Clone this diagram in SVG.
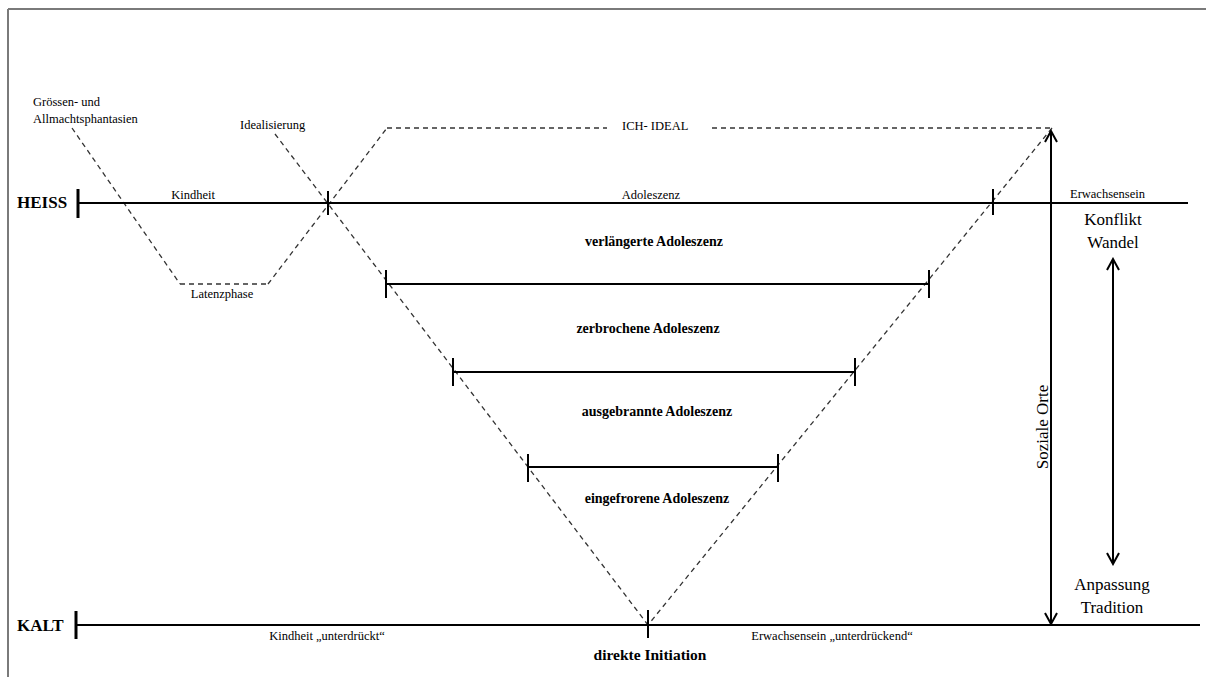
<svg xmlns="http://www.w3.org/2000/svg" width="1206" height="677" viewBox="0 0 1206 677">
<defs>
<style>
.t{font-family:'Liberation Serif','Times New Roman','Tinos','DejaVu Serif',serif;fill:#000}
.s{font-size:12.5px}
.b{font-weight:bold;font-size:14px}
.m{font-size:17px}
.line{stroke:#000;stroke-width:2;fill:none}
.tick{stroke:#000;stroke-width:2;fill:none}
.dash{stroke:#333;stroke-width:1.3;fill:none;stroke-dasharray:5 4}
</style>
<marker id="ah" viewBox="0 0 14 14" refX="12" refY="7" markerWidth="14" markerHeight="14" markerUnits="userSpaceOnUse" orient="auto-start-reverse">
<path d="M1,1 L12,7 L1,13" fill="none" stroke="#000" stroke-width="2"/>
</marker>
</defs>
<rect width="1206" height="677" fill="#fff"/>
<g id="frame" stroke="#7a7a7a" stroke-width="2">
<line x1="8" y1="9" x2="1206" y2="9"/>
<line x1="8" y1="9" x2="8" y2="677"/>
</g>
<g id="connectors">
<line class="dash" x1="72" y1="128" x2="180" y2="284"/>
<line class="dash" x1="180" y1="284" x2="268" y2="284"/>
<line class="dash" x1="268" y1="284" x2="387" y2="128"/>
<line class="dash" x1="387" y1="128" x2="607" y2="128"/>
<line class="dash" x1="712" y1="128" x2="1052" y2="128"/>
<line class="dash" x1="1052" y1="128" x2="648" y2="625"/>
<line class="dash" x1="275" y1="134" x2="648" y2="625"/>
</g>
<g id="heiss" font-family="Liberation Serif, serif">
<line class="line" x1="78" y1="203" x2="1188" y2="203"/>
<line stroke="#000" stroke-width="3" x1="78" y1="189" x2="78" y2="218"/>
<line class="tick" x1="328" y1="191" x2="328" y2="215"/>
<line class="tick" x1="993" y1="189" x2="993" y2="215"/>
<text x="17" y="208" class="t b" style="font-size:17px">HEISS</text>
<text x="193" y="199" class="t s" text-anchor="middle">Kindheit</text>
<text x="651" y="199" class="t s" text-anchor="middle">Adoleszenz</text>
<text x="1070" y="198" class="t s">Erwachsensein</text>
</g>
<g id="kalt">
<line class="line" x1="76" y1="625" x2="1200" y2="625"/>
<line stroke="#000" stroke-width="3" x1="76" y1="611" x2="76" y2="639"/>
<line class="tick" x1="648" y1="610" x2="648" y2="638"/>
<text x="17" y="631" class="t b" style="font-size:17px">KALT</text>
<text x="327" y="640" class="t s" text-anchor="middle">Kindheit „unterdrückt“</text>
<text x="832" y="640" class="t s" text-anchor="middle">Erwachsensein „unterdrückend“</text>
<text x="650" y="660" class="t b" style="font-size:15.5px" text-anchor="middle">direkte Initiation</text>
</g>
<g id="labels-top">
<text x="33" y="106" class="t s">Grössen- und</text>
<text x="33" y="123" class="t s">Allmachtsphantasien</text>
<text x="240" y="129" class="t s">Idealisierung</text>
<text x="622" y="130" class="t s">ICH- IDEAL</text>
<text x="222" y="298" class="t s" text-anchor="middle">Latenzphase</text>
</g>
<g id="bar1">
<line class="line" x1="386" y1="284" x2="929" y2="284"/>
<line class="tick" x1="386" y1="270" x2="386" y2="298"/>
<line class="tick" x1="929" y1="270" x2="929" y2="298"/>
<text x="654" y="246" class="t b" text-anchor="middle">verlängerte Adoleszenz</text>
</g>
<g id="bar2">
<line class="line" x1="453" y1="372" x2="855" y2="372"/>
<line class="tick" x1="453" y1="358" x2="453" y2="386"/>
<line class="tick" x1="855" y1="358" x2="855" y2="386"/>
<text x="648" y="333" class="t b" text-anchor="middle">zerbrochene Adoleszenz</text>
</g>
<g id="bar3">
<line class="line" x1="528" y1="467" x2="778" y2="467"/>
<line class="tick" x1="528" y1="454" x2="528" y2="482"/>
<line class="tick" x1="778" y1="454" x2="778" y2="482"/>
<text x="657" y="416" class="t b" text-anchor="middle">ausgebrannte Adoleszenz</text>
<text x="657" y="503" class="t b" text-anchor="middle">eingefrorene Adoleszenz</text>
</g>
<g id="soziale-orte">
<line class="line" x1="1051" y1="131" x2="1051" y2="624" marker-start="url(#ah)" marker-end="url(#ah)"/>
<text transform="translate(1048,427) rotate(-90)" class="t m" text-anchor="middle">Soziale Orte</text>
</g>
<g id="wandel">
<text x="1113" y="225" class="t m" text-anchor="middle">Konflikt</text>
<text x="1113" y="248" class="t m" text-anchor="middle">Wandel</text>
<line class="line" x1="1113" y1="259" x2="1113" y2="564" marker-start="url(#ah)" marker-end="url(#ah)"/>
<text x="1112" y="590" class="t m" text-anchor="middle">Anpassung</text>
<text x="1112" y="613" class="t m" text-anchor="middle">Tradition</text>
</g>
</svg>
